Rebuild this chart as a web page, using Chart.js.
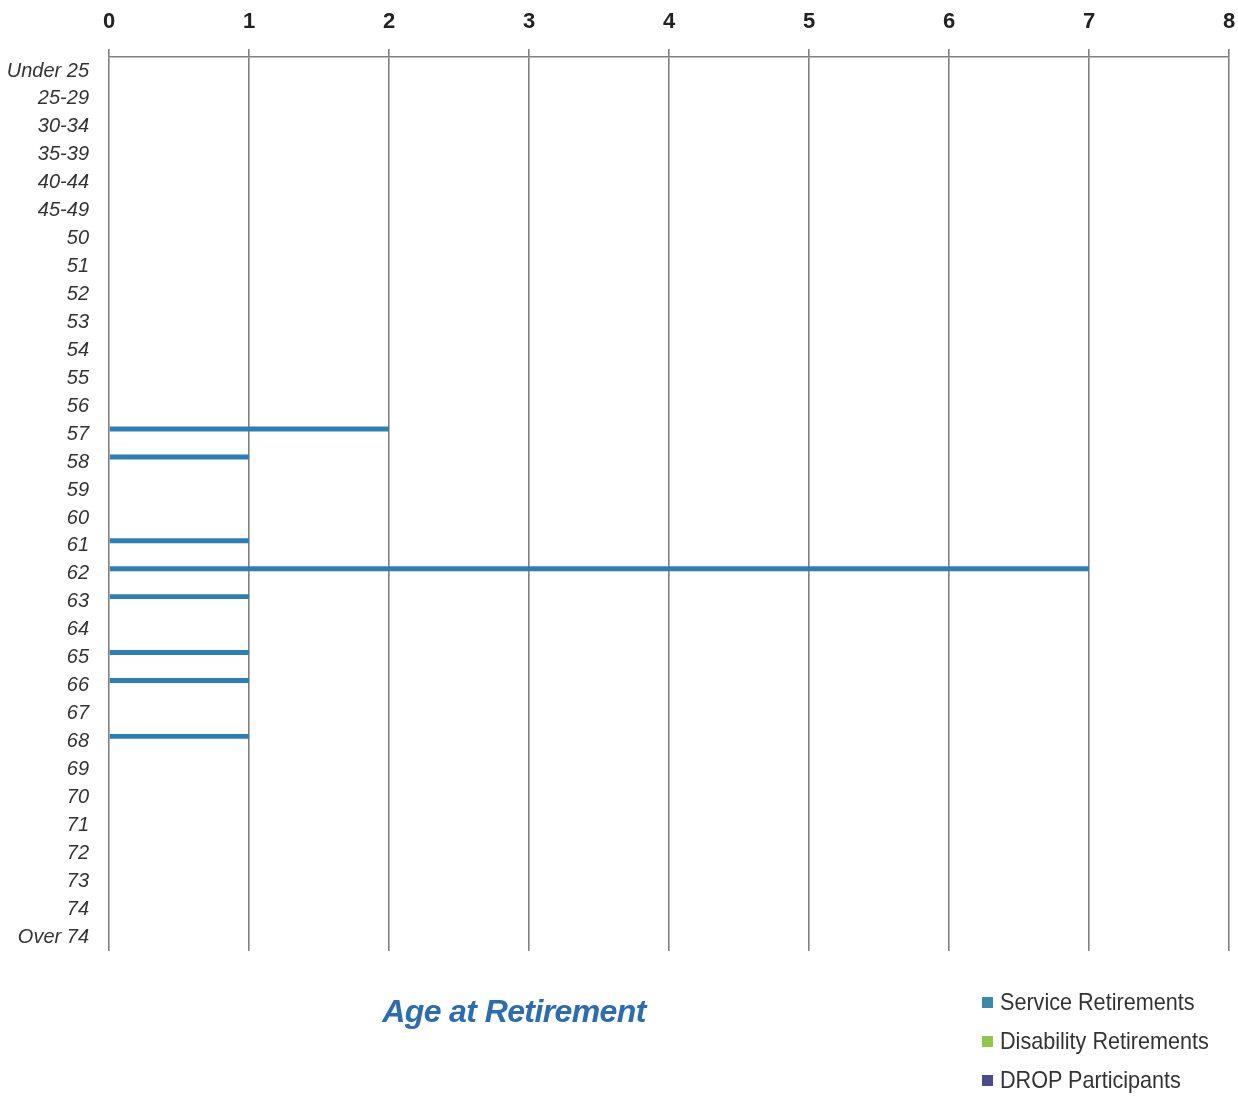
<!DOCTYPE html>
<html>
<head>
<meta charset="utf-8">
<script src="https://cdn.jsdelivr.net/npm/chart.js@4/dist/chart.umd.min.js"></script>
<style>
  html, body { margin: 0; padding: 0; background: #ffffff; }
  #wrap { position: relative; width: 1238px; height: 1097px; }
  #chart { position: absolute; left: 0; top: 0; }
  #title {
    position: absolute; left: 300px; width: 428px; top: 993px; text-align: center;
    font-family: "Liberation Sans", Arial, sans-serif; font-weight: bold; font-style: italic;
    font-size: 32px; color: #2b6cb3; letter-spacing: -0.6px;
  }
  #legend { position: absolute; left: 982px; top: 987px; font-family: "Liberation Sans", Arial, sans-serif; font-size: 24px; color: #333; }
  .item { height: 39px; line-height: 30px; white-space: nowrap; }
  .sw { display: inline-block; width: 11px; height: 11px; margin-right: 7px; vertical-align: 2px; }
  .txt { display: inline-block; transform: scaleX(0.9); transform-origin: left center; }
</style>
</head>
<body>
<div id="wrap">
  <canvas id="chart" width="1238" height="1097"></canvas>
  <div id="title">Age at Retirement</div>
  <div id="legend"></div>
</div>
<script>
// Age bands, top to bottom
const ageGroups = ['Under 25','25-29','30-34','35-39','40-44','45-49','50','51','52','53','54','55','56','57','58','59','60','61','62','63','64','65','66','67','68','69','70','71','72','73','74','Over 74'];

// Number of retirements per age band
const serviceRetirements    = [0,0,0,0,0,0,0,0,0,0,0,0,0,2,1,0,0,1,7,1,0,1,1,0,1,0,0,0,0,0,0,0];
const disabilityRetirements = [0,0,0,0,0,0,0,0,0,0,0,0,0,0,0,0,0,0,0,0,0,0,0,0,0,0,0,0,0,0,0,0];
const dropParticipants      = [0,0,0,0,0,0,0,0,0,0,0,0,0,0,0,0,0,0,0,0,0,0,0,0,0,0,0,0,0,0,0,0];

// Count axis ticks
const countTicks = [0,1,2,3,4,5,6,7,8];

const seriesNames  = ['Service Retirements','Disability Retirements','DROP Participants'];
const seriesColors = ['#2c7fb4','#8dc84c','#4b4b92'];
const swatchColors = ['#3a8aae','#8dc84c','#4b4b92'];

const ctx = document.getElementById('chart');
new Chart(ctx, {
  type: 'bar',
  data: {
    labels: ageGroups,
    datasets: [serviceRetirements, disabilityRetirements, dropParticipants].map((d, i) => ({
      label: seriesNames[i],
      data: d,
      backgroundColor: seriesColors[i],
      borderWidth: 0,
      categoryPercentage: 0.55,
      barPercentage: 0.95
    }))
  },
  options: {
    responsive: false,
    animation: false,
    indexAxis: 'y',
    layout: { padding: { left: 0, right: 9, top: 0, bottom: 146 } },
    plugins: { legend: { display: false }, title: { display: false }, tooltip: { enabled: false } },
    scales: {
      x: {
        position: 'top',
        min: countTicks[0], max: countTicks[countTicks.length - 1],
        afterBuildTicks: (s) => { s.ticks = countTicks.map(v => ({ value: v })); },
        ticks: {
          padding: 14, color: '#222',
          font: { family: '"Liberation Sans", Arial, sans-serif', size: 22, weight: 'bold' }
        },
        grid: { color: '#808080', lineWidth: 1.6, drawTicks: true, tickLength: 8, tickColor: '#808080' },
        border: { display: true, color: '#808080', width: 1.6 },
        afterFit: (s) => { s.height = 57; s.paddingLeft = 0; s.paddingRight = 0; }
      },
      y: {
        ticks: {
          padding: 20, color: '#333', autoSkip: false,
          font: { family: '"Liberation Sans", Arial, sans-serif', size: 20, style: 'italic' }
        },
        grid: { display: false, drawTicks: false },
        border: { display: false },
        afterFit: (s) => { s.width = 109; }
      }
    }
  }
});

// Legend entries
const legend = document.getElementById('legend');
seriesNames.forEach((name, i) => {
  const row = document.createElement('div');
  row.className = 'item';
  row.innerHTML = '<span class="sw" style="background:' + swatchColors[i] + '"></span><span class="txt">' + name + '</span>';
  legend.appendChild(row);
});
</script>
</body>
</html>
